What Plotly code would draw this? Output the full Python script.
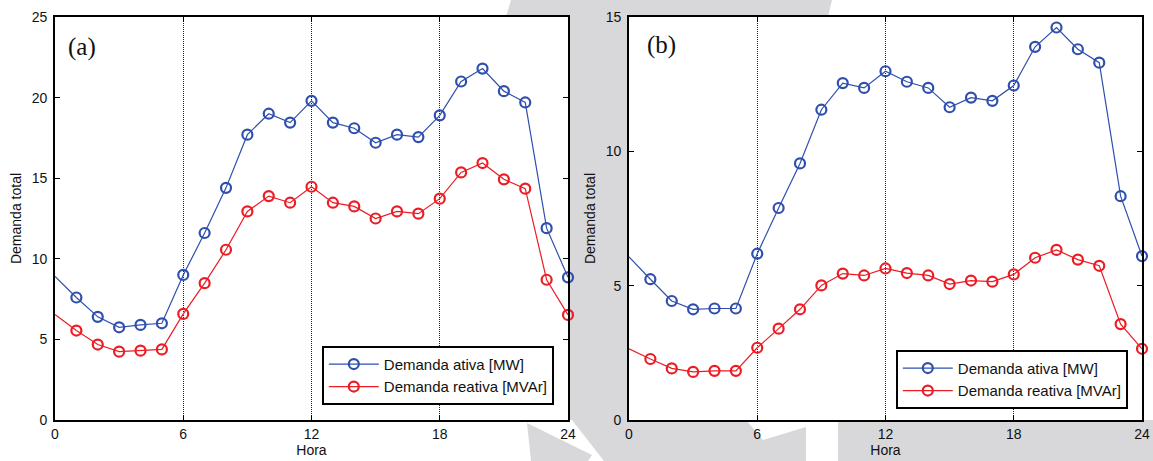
import plotly.graph_objects as go

W, H = 1153, 461

horas = list(range(0, 25))
x_ticks = [0, 6, 12, 18, 24]

# Panel (a)
ativa_a = [8.9, 7.6, 6.4, 5.75, 5.9, 6.0, 9.0, 11.6, 14.4, 17.7, 19.0, 18.45, 19.8,
           18.45, 18.1, 17.2, 17.7, 17.55, 18.9, 21.0, 21.8, 20.4, 19.7, 11.9, 8.85]
reativa_a = [6.55, 5.55, 4.68, 4.24, 4.3, 4.38, 6.58, 8.49, 10.56, 12.94, 13.89, 13.48, 14.47,
             13.48, 13.25, 12.5, 12.94, 12.8, 13.73, 15.36, 15.94, 14.93, 14.35, 8.7, 6.52]
# Panel (b)
ativa_b = [6.07, 5.24, 4.43, 4.12, 4.15, 4.15, 6.19, 7.89, 9.55, 11.55, 12.54, 12.36, 12.98,
           12.59, 12.36, 11.64, 12.0, 11.88, 12.45, 13.89, 14.61, 13.8, 13.3, 8.33, 6.1]
reativa_b = [2.65, 2.27, 1.92, 1.79, 1.83, 1.83, 2.69, 3.4, 4.12, 5.01, 5.45, 5.38, 5.64,
             5.47, 5.38, 5.06, 5.19, 5.15, 5.42, 6.04, 6.33, 5.97, 5.74, 3.57, 2.65]

nome_ativa = "Demanda ativa [MW]"
nome_reativa = "Demanda reativa [MVAr]"
BLUE = "#2f4fae"
RED = "#ec1c24"

fig = go.Figure()

def add_series(xa, ya, y, color, name, legend):
    fig.add_trace(go.Scatter(x=horas[:2], y=y[:2], mode="lines", xaxis=xa, yaxis=ya,
                             line=dict(color=color, width=1.2), showlegend=False,
                             hoverinfo="skip"))
    fig.add_trace(go.Scatter(x=horas[1:], y=y[1:], mode="lines+markers", xaxis=xa, yaxis=ya,
                             name=name, legend=legend,
                             line=dict(color=color, width=1.2),
                             marker=dict(symbol="circle-open", size=10,
                                         line=dict(color=color, width=2.2), color=color),
                             cliponaxis=False))

add_series("x", "y", ativa_a, BLUE, nome_ativa, "legend")
add_series("x", "y", reativa_a, RED, nome_reativa, "legend")
add_series("x2", "y2", ativa_b, BLUE, nome_ativa, "legend2")
add_series("x2", "y2", reativa_b, RED, nome_reativa, "legend2")

def px(x):
    return x / W

def py(y):
    return 1 - y / H

xa_dom = [px(55), px(568)]
xb_dom = [px(629), px(1142)]
y_dom = [py(420), py(17)]

FONT = "Liberation Sans, Arial"
tickfont = dict(family=FONT, size=14, color="#111")
common_x = dict(range=[0, 24], tickvals=x_ticks, ticks="inside", ticklen=5, tickcolor="black",
                showline=True, linecolor="black", linewidth=1.8, mirror="ticks",
                showgrid=True, gridcolor="#222", gridwidth=1, griddash="1px,1px",
                zeroline=False, tickfont=tickfont, automargin=False,
                title=dict(text="Hora", font=dict(family=FONT, size=14, color="#111"),
                           standoff=1))
common_y = dict(ticks="inside", ticklen=5, tickcolor="black", showline=True, linecolor="black",
                linewidth=1.8, mirror="ticks", showgrid=False, zeroline=False, tickfont=tickfont,
                ticklabelstandoff=3, automargin=False,
                title=dict(text="Demanda total", font=dict(family=FONT, size=14, color="#111"),
                           standoff=7))

legend_common = dict(xanchor="right", yanchor="bottom", bgcolor="white", bordercolor="black",
                     borderwidth=1.8, font=dict(family=FONT, size=15, color="#111"),
                     tracegroupgap=0, itemwidth=50)

fig.update_layout(
    template="none",
    width=W, height=H, margin=dict(l=0, r=0, t=0, b=0, autoexpand=False),
    paper_bgcolor="white", plot_bgcolor="rgba(0,0,0,0)",
    xaxis=dict(domain=xa_dom, anchor="y", **common_x),
    yaxis=dict(domain=y_dom, anchor="x", range=[0, 25], tickvals=[0, 5, 10, 15, 20, 25], **common_y),
    xaxis2=dict(domain=xb_dom, anchor="y2", **common_x),
    yaxis2=dict(domain=y_dom, anchor="x2", range=[0, 15], tickvals=[0, 5, 10, 15], **common_y),
    legend=dict(x=px(554), y=py(405), **legend_common),
    legend2=dict(x=px(1128), y=py(409), **legend_common),
    showlegend=True,
)

# panel labels
fig.add_annotation(x=px(66), y=py(47), xref="paper", yref="paper", text="(a)", showarrow=False,
                   xanchor="left", yanchor="middle",
                   font=dict(family="Liberation Serif, Times New Roman", size=25, color="#111"))
fig.add_annotation(x=px(645), y=py(45), xref="paper", yref="paper", text="(b)", showarrow=False,
                   xanchor="left", yanchor="middle",
                   font=dict(family="Liberation Serif, Times New Roman", size=25, color="#111"))

# light grey background watermark shapes (pixel polygons)
GREY = "#d8d8da"
polys = [
    [(511, 0), (832, 0), (828, 17), (506, 17)],
    [(568, 0), (629, 0), (629, 420), (568, 420)],
    [(572, 420), (746, 420), (763, 440), (806, 427), (806, 461), (604, 461)],
    [(527, 423), (592, 455), (588, 461), (531, 461)],
    [(838, 420), (1153, 420), (1153, 461), (838, 461)],
]
shapes = []
for poly in polys:
    path = "M " + " L ".join(f"{px(a):.5f},{py(b):.5f}" for a, b in poly) + " Z"
    shapes.append(dict(type="path", path=path, xref="paper", yref="paper", layer="below",
                       fillcolor=GREY, line=dict(width=0)))
# white plot areas over the watermark
for dom in (xa_dom, xb_dom):
    shapes.append(dict(type="rect", xref="paper", yref="paper", x0=dom[0], x1=dom[1],
                       y0=y_dom[0], y1=y_dom[1], layer="below", fillcolor="white",
                       line=dict(width=0)))
fig.update_layout(shapes=shapes)

fig.write_html("out.html", config={"displayModeBar": False},
               post_script="document.body.style.margin='0';document.body.style.overflow='hidden';")
